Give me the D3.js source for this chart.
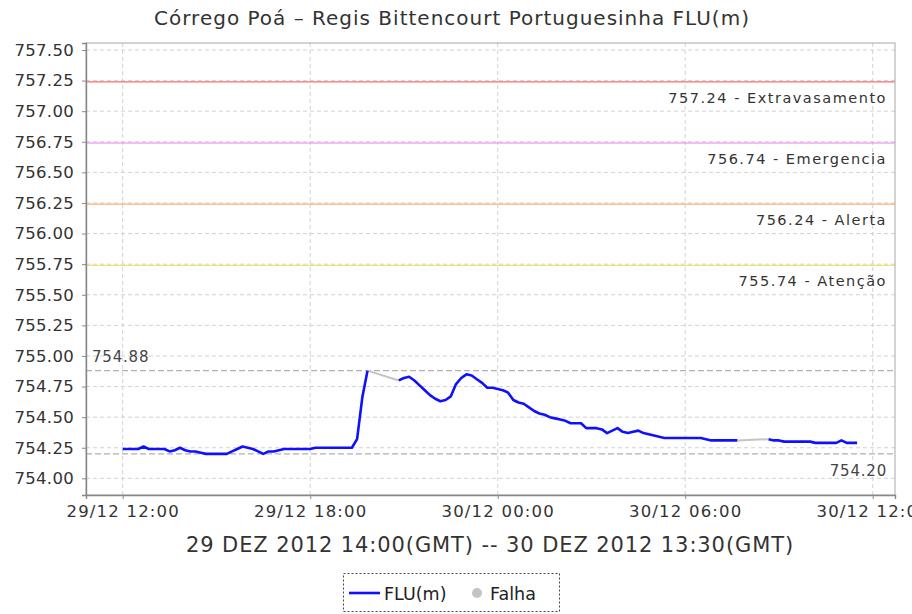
<!DOCTYPE html>
<html>
<head>
<meta charset="utf-8">
<script src="https://cdn.jsdelivr.net/npm/d3@7"></script>
<style>
  html, body { margin: 0; padding: 0; background: #fff; }
  svg { display: block; font-family: "DejaVu Sans", sans-serif; }
</style>
</head>
<body>
<svg id="chart" width="912" height="614"></svg>
<script>
// Station series: FLU(m) water level, one reading every 10 minutes (local time).
const seriesStart = "2012-12-29 12:00";
const stepMinutes = 10;
// null = no reading (falha); gaps are bridged in grey
const levels = [
  754.24, 754.24, 754.24, 754.24, 754.26, 754.24, 754.24, 754.24, 754.24, 754.22,
  754.23, 754.25, 754.23, 754.22, 754.22, 754.21, 754.20, 754.20, 754.20, 754.20,
  754.20, 754.22, 754.24, 754.26, 754.25, 754.24, 754.22, 754.20, 754.22, 754.22,
  754.23, 754.24, 754.24, 754.24, 754.24, 754.24, 754.24, 754.25, 754.25, 754.25,
  754.25, 754.25, 754.25, 754.25, 754.25, 754.32, 754.66, 754.88, null, null,
  null, null, null, 754.80, 754.82, 754.83, 754.80, 754.76, 754.72, 754.68,
  754.65, 754.63, 754.64, 754.67, 754.77, 754.82, 754.85, 754.84, 754.81, 754.78,
  754.74, 754.74, 754.73, 754.72, 754.70, 754.64, 754.62, 754.61, 754.58, 754.55,
  754.53, 754.52, 754.50, 754.49, 754.48, 754.47, 754.45, 754.45, 754.45, 754.41,
  754.41, 754.41, 754.40, 754.37, 754.39, 754.41, 754.38, 754.37, 754.38, 754.39,
  754.37, 754.36, 754.35, 754.34, 754.33, 754.33, 754.33, 754.33, 754.33, 754.33,
  754.33, 754.33, 754.32, 754.31, 754.31, 754.31, 754.31, 754.31, 754.31, null,
  null, null, null, null, 754.32, 754.31, 754.31, 754.30, 754.30, 754.30,
  754.30, 754.30, 754.30, 754.29, 754.29, 754.29, 754.29, 754.29, 754.31, 754.29,
  754.29, 754.29
];

// Reference levels drawn across the plot
const thresholdValues = [757.24, 756.74, 756.24, 755.74];
const thresholdNames = ["Extravasamento", "Emergencia", "Alerta", "Atenção"];
const thresholdColors = ["#ff6a6a", "#f07cf0", "#ffb070", "#f2e070"];

const maxLevel = 754.88;
const minLevel = 754.20;

const yTicks = [754.00, 754.25, 754.50, 754.75, 755.00, 755.25, 755.50, 755.75,
                756.00, 756.25, 756.50, 756.75, 757.00, 757.25, 757.50];
const xTicks = ["2012-12-29 12:00", "2012-12-29 18:00", "2012-12-30 00:00",
                "2012-12-30 06:00", "2012-12-30 12:00"];
const xDomain = ["2012-12-29 10:49:32", "2012-12-30 12:42:47"];
const yDomain = [753.864, 757.557];

const titleText = "Córrego Poá – Regis Bittencourt Portuguesinha FLU(m)";
const subtitleText = "29 DEZ 2012 14:00(GMT) -- 30 DEZ 2012 13:30(GMT)";
const legendLabels = ["FLU(m)", "Falha"];

// ---------------------------------------------------------------
const parseMin = d3.utcParse("%Y-%m-%d %H:%M");
const parseSec = d3.utcParse("%Y-%m-%d %H:%M:%S");
const t0 = parseMin(seriesStart);
const data = levels.map((v, i) => ({ t: d3.utcMinute.offset(t0, i * stepMinutes), v }));

const plot = { left: 86, top: 43, right: 895, bottom: 495 };
const svg = d3.select("#chart");

const x = d3.scaleUtc().domain(xDomain.map(parseSec)).range([plot.left, plot.right]);
const y = d3.scaleLinear().domain(yDomain).range([plot.bottom, plot.top]);

// title
svg.append("text")
  .attr("x", 452).attr("y", 25)
  .attr("text-anchor", "middle")
  .attr("font-size", 20).attr("letter-spacing", 1.0)
  .attr("fill", "#333")
  .text(titleText);

const g = svg.append("g");

// grid
g.selectAll("line.gy").data(yTicks).join("line")
  .attr("x1", plot.left).attr("x2", plot.right)
  .attr("y1", d => y(d)).attr("y2", d => y(d))
  .attr("stroke", "#d2d2d2").attr("stroke-width", 1).attr("stroke-dasharray", "4,3");
g.selectAll("line.gx").data(xTicks.map(parseMin)).join("line")
  .attr("x1", d => x(d)).attr("x2", d => x(d))
  .attr("y1", plot.top).attr("y2", plot.bottom)
  .attr("stroke", "#d2d2d2").attr("stroke-width", 1).attr("stroke-dasharray", "4,3");

// threshold lines and labels
thresholdValues.forEach((v, i) => {
  g.append("line")
    .attr("x1", plot.left).attr("x2", plot.right)
    .attr("y1", y(v)).attr("y2", y(v))
    .attr("stroke", thresholdColors[i]).attr("stroke-width", 1.2);
  g.append("text")
    .attr("x", 887).attr("y", y(v) + 21)
    .attr("text-anchor", "end")
    .attr("font-size", 14.5).attr("letter-spacing", 1.5)
    .attr("fill", "#333")
    .text(v.toFixed(2) + " - " + thresholdNames[i]);
});

// max / min markers
[maxLevel, minLevel].forEach(v => {
  g.append("line")
    .attr("x1", plot.left).attr("x2", plot.right)
    .attr("y1", y(v)).attr("y2", y(v))
    .attr("stroke", "#b0b0b0").attr("stroke-width", 1.4).attr("stroke-dasharray", "6,3");
});
g.append("text")
  .attr("x", 92).attr("y", y(maxLevel) - 9)
  .attr("font-size", 15).attr("letter-spacing", 0.8).attr("fill", "#444")
  .text(maxLevel.toFixed(2));
g.append("text")
  .attr("x", 887).attr("y", y(minLevel) + 22)
  .attr("text-anchor", "end")
  .attr("font-size", 15).attr("letter-spacing", 0.8).attr("fill", "#444")
  .text(minLevel.toFixed(2));

// gaps bridged in grey
const gaps = [];
let last = null;
data.forEach((d, i) => {
  if (d.v == null) return;
  if (last && i - last.i > 1) gaps.push([last.d, d]);
  last = { d, i };
});
const seg = d3.line().x(d => x(d.t)).y(d => y(d.v));
gaps.forEach(pair => {
  g.append("path").attr("d", seg(pair))
    .attr("fill", "none").attr("stroke", "#c4c4c4").attr("stroke-width", 2);
});

// series
g.append("path")
  .attr("d", d3.line().defined(d => d.v != null).x(d => x(d.t)).y(d => y(d.v))(data))
  .attr("fill", "none").attr("stroke", "#1010ff").attr("stroke-width", 2.6)
  .attr("stroke-linejoin", "round");

// plot outline
g.append("rect")
  .attr("x", plot.left).attr("y", plot.top)
  .attr("width", plot.right - plot.left).attr("height", plot.bottom - plot.top)
  .attr("fill", "none").attr("stroke", "#a8a8a8").attr("stroke-width", 1);

// axes
const yAxis = d3.axisLeft(y).tickValues(yTicks).tickFormat(d3.format(".2f")).tickSize(4).tickPadding(8);
const yg = svg.append("g").attr("transform", `translate(${plot.left},0)`).call(yAxis);
const xAxis = d3.axisBottom(x).tickValues(xTicks.map(parseMin))
  .tickFormat(d3.utcFormat("%d/%m %H:%M")).tickSize(4).tickPadding(6);
const xg = svg.append("g").attr("transform", `translate(0,${plot.bottom})`).call(xAxis);
[yg, xg].forEach(ax => {
  ax.select(".domain").attr("stroke", "#888").attr("stroke-width", 1.4);
  ax.selectAll(".tick line").attr("stroke", "#888");
  ax.selectAll(".tick text").attr("fill", "#333").attr("font-family", "DejaVu Sans, sans-serif");
});
yg.selectAll(".tick text").attr("font-size", 16.5).attr("letter-spacing", 0.3);
xg.selectAll(".tick text").attr("font-size", 16.5).attr("letter-spacing", 1.2);

// subtitle with the period in GMT
svg.append("text")
  .attr("x", 490).attr("y", 552)
  .attr("text-anchor", "middle")
  .attr("font-size", 21).attr("letter-spacing", 0.9)
  .attr("fill", "#333")
  .text(subtitleText);

// legend
const lg = svg.append("g");
lg.append("rect").attr("x", 343.5).attr("y", 573.5).attr("width", 216).attr("height", 38)
  .attr("fill", "#fff").attr("stroke", "#444").attr("stroke-dasharray", "2,2");
lg.append("line").attr("x1", 349).attr("x2", 380).attr("y1", 593).attr("y2", 593)
  .attr("stroke", "#1010ff").attr("stroke-width", 2.6);
lg.append("text").attr("x", 384).attr("y", 600).attr("font-size", 17.5).attr("fill", "#222")
  .text(legendLabels[0]);
lg.append("circle").attr("cx", 477).attr("cy", 593).attr("r", 5).attr("fill", "#c4c4c4");
lg.append("text").attr("x", 490).attr("y", 600).attr("font-size", 17.5).attr("fill", "#222")
  .text(legendLabels[1]);
</script>
</body>
</html>
